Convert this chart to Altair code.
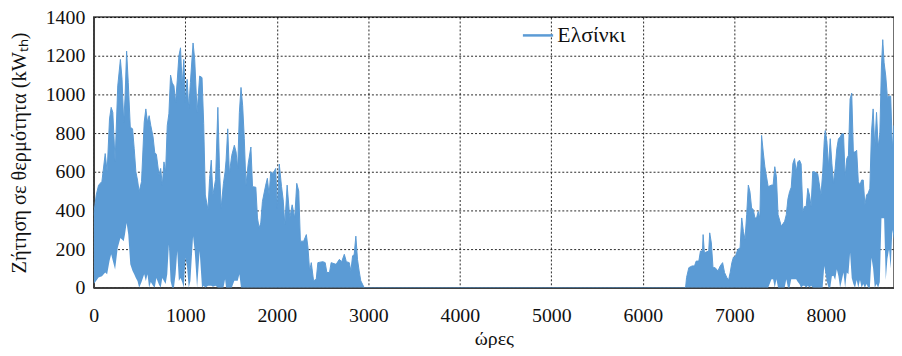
import altair as alt
import pandas as pd

# ---- data: hour of year, upper / lower envelope of the hourly demand (kW_th)
hours = [
    0, 27, 52, 89, 125, 146, 172, 190, 208, 233,
    262, 291, 309, 327, 341, 359, 377, 399, 424, 442,
    460, 478, 496, 522, 551, 569, 587, 605, 623, 648,
    666, 684, 713, 731, 749, 767, 785, 803, 821, 839,
    857, 876, 894, 912, 930, 948, 966, 984, 1002, 1020,
    1038, 1056, 1085, 1103, 1129, 1157, 1183, 1201, 1219, 1248,
    1266, 1284, 1302, 1331, 1356, 1374, 1392, 1417, 1435, 1446,
    1464, 1482, 1508, 1536, 1555, 1573, 1591, 1609, 1627, 1645,
    1663, 1688, 1717, 1735, 1771, 1789, 1807, 1825, 1843, 1879,
    1897, 1916, 1934, 1959, 1988, 2006, 2027, 2052, 2070, 2088,
    2113, 2142, 2168, 2196, 2218, 2240, 2258, 2294, 2323, 2341,
    2359, 2377, 2402, 2431, 2449, 2503, 2529, 2547, 2576, 2594,
    2648, 2684, 2709, 2738, 2760, 2792, 2810, 2828, 2846, 2864,
    2882, 2900, 2918, 2936, 2955, 6467, 6478, 6503, 6539, 6565,
    6583, 6612, 6630, 6652, 6659, 6673, 6720, 6731, 6749, 6767,
    6790, 6821, 6846, 6872, 6893, 6918, 6937, 6955, 6973, 6991,
    7009, 7038, 7063, 7081, 7099, 7117, 7135, 7153, 7171, 7189,
    7207, 7225, 7243, 7261, 7279, 7298, 7316, 7334, 7352, 7370,
    7406, 7424, 7442, 7460, 7478, 7514, 7550, 7568, 7586, 7604,
    7622, 7640, 7658, 7676, 7694, 7712, 7730, 7749, 7767, 7785,
    7803, 7821, 7839, 7857, 7875, 7911, 7947, 7965, 7983, 7994,
    8012, 8030, 8048, 8066, 8084, 8102, 8120, 8138, 8156, 8175,
    8193, 8211, 8229, 8247, 8265, 8283, 8301, 8319, 8337, 8355,
    8373, 8391, 8409, 8427, 8445, 8463, 8481, 8499, 8517, 8535,
    8554, 8572, 8590, 8608, 8622, 8637, 8655, 8673, 8691, 8709,
    8727, 8745, 8760,
]
upper = [
    380, 480, 530, 550, 694, 600, 873, 933, 907, 655,
    1044, 1181, 1078, 856, 976, 1224, 1061, 830, 822, 719,
    600, 557, 497, 549, 856, 925, 856, 890, 839, 780,
    700, 690, 583, 617, 531, 651, 600, 839, 900, 1100,
    1060, 1044, 959, 1070, 1198, 1241, 1044, 1181, 959, 1078,
    925, 1061, 1266, 1181, 907, 1095, 1087, 850, 480, 403,
    566, 660, 480, 560, 933, 617, 412, 540, 600, 660,
    822, 591, 685, 737, 702, 617, 907, 1036, 942, 771,
    531, 643, 728, 523, 520, 361, 309, 335, 446, 531,
    566, 480, 600, 591, 617, 412, 640, 523, 455, 326,
    531, 361, 429, 361, 540, 500, 241, 241, 275, 207,
    87, 130, 36, 44, 130, 135, 130, 79, 79, 130,
    121, 147, 135, 173, 135, 130, 87, 164, 173, 267,
    147, 87, 36, 19, 0, 0, 53, 104, 113, 113,
    138, 138, 190, 190, 275, 181, 190, 284, 232, 104,
    104, 87, 113, 130, 79, 53, 39, 79, 130, 159,
    159, 198, 207, 361, 292, 250, 378, 531, 497, 412,
    405, 361, 361, 395, 361, 788, 702, 626, 574, 523,
    531, 531, 626, 574, 378, 318, 344, 378, 460, 497,
    520, 643, 668, 600, 651, 660, 640, 395, 420, 420,
    514, 480, 420, 600, 600, 590, 480, 591, 762, 813,
    754, 626, 771, 643, 540, 617, 719, 771, 779, 796,
    796, 574, 668, 685, 976, 1007, 702, 702, 711, 549,
    531, 557, 557, 429, 480, 489, 514, 805, 925, 728,
    907, 728, 796, 1147, 1283, 1164, 1095, 984, 991, 991,
    719, 839, 800,
]
lower = [
    20, 36, 53, 60, 79, 70, 138, 173, 140, 95,
    207, 258, 250, 241, 275, 335, 275, 121, 87, 70,
    50, 35, 0, 30, 70, 35, 70, 0, 30, 10,
    0, 50, 15, 0, 50, 35, 20, 70, 224, 35,
    0, 0, 70, 190, 35, 50, 30, 0, 155, 104,
    0, 35, 267, 190, 0, 190, 0, 10, 0, 10,
    10, 10, 5, 10, 0, 0, 0, 0, 44, 0,
    0, 0, 0, 36, 36, 36, 70, 0, 0, 0,
    0, 0, 0, 0, 0, 0, 0, 0, 0, 0,
    0, 0, 0, 0, 0, 0, 0, 0, 0, 0,
    0, 0, 0, 0, 0, 0, 0, 0, 0, 0,
    0, 0, 0, 0, 0, 0, 0, 0, 0, 0,
    0, 0, 0, 0, 0, 0, 0, 0, 0, 0,
    0, 0, 0, 0, 0, 0, 0, 0, 0, 0,
    0, 0, 0, 0, 0, 0, 0, 0, 0, 0,
    0, 0, 0, 0, 0, 0, 0, 0, 0, 0,
    0, 0, 0, 0, 0, 0, 0, 0, 0, 0,
    0, 0, 0, 0, 0, 0, 0, 0, 0, 0,
    44, 44, 0, 44, 0, 0, 0, 44, 0, 0,
    44, 44, 44, 44, 30, 20, 0, 10, 10, 0,
    10, 0, 10, 0, 0, 0, 0, 0, 113, 80,
    30, 0, 0, 60, 62, 40, 96, 60, 0, 40,
    79, 0, 79, 70, 181, 50, 20, 0, 40, 0,
    40, 0, 20, 0, 20, 0, 0, 155, 100, 0,
    20, 0, 30, 360, 360, 360, 40, 150, 200, 100,
    300, 250, 100,
]
series_name = "Ελσίνκι"
x_ticks = [0, 1000, 2000, 3000, 4000, 5000, 6000, 7000, 8000]
y_ticks = [0, 200, 400, 600, 800, 1000, 1200, 1400]

assert len(hours) == len(upper) == len(lower)
df = pd.DataFrame({"hour": hours, "upper": upper, "lower": lower})
df["series"] = series_name

FONT = "Liberation Serif"
BLUE = "#5B9BD5"
TXT = "#111111"

common_axis = dict(
    labelFont=FONT, labelFontSize=20, labelColor=TXT, labelFlush=False,
    titleFont=FONT, titleColor=TXT, titleFontWeight="normal",
    ticks=False, grid=True, gridColor="#000000", gridDash=[2, 2], gridWidth=1,
    gridOpacity=0.85, domainColor="#404040", domainWidth=1.5,
)
x_axis = alt.Axis(values=x_ticks, format="d", title="ώρες", labelPadding=18,
                  titlePadding=3, titleFontSize=20, **common_axis)
y_axis = alt.Axis(values=y_ticks, format="d", title="Ζήτηση σε θερμότητα (kWₜₕ)",
                  labelPadding=9, titlePadding=16, titleFontSize=20.5, **common_axis)
x_scale = alt.Scale(domain=[0, 8745], nice=False, zero=False)
y_scale = alt.Scale(domain=[0, 1400], nice=False)

area = alt.Chart(df).mark_area(color=BLUE, clip=True, interpolate="linear").encode(
    x=alt.X("hour:Q", scale=x_scale, axis=x_axis),
    y=alt.Y("lower:Q", scale=y_scale, axis=y_axis),
    y2="upper:Q",
)

line = alt.Chart(df).mark_line(strokeWidth=1, clip=True, interpolate="linear").encode(
    x=alt.X("hour:Q", scale=x_scale, axis=x_axis),
    y=alt.Y("upper:Q", scale=y_scale, axis=y_axis),
    color=alt.Color(
        "series:N",
        scale=alt.Scale(range=[BLUE]),
        legend=alt.Legend(
            title=None, orient="none", legendX=431.5, legendY=2,
            symbolType="stroke", symbolSize=930, symbolStrokeWidth=2.5,
            labelFont=FONT, labelFontSize=22, labelColor=TXT,
            labelOffset=3, padding=0,
        ),
    ),
)

chart = (
    alt.layer(area, line)
    .properties(
        width=807, height=273,
        autosize=alt.AutoSizeParams(type="none"),
        padding={"left": 86.5, "top": 7.7, "right": 0, "bottom": 59.3},
    )
    .configure_view(stroke="#404040", strokeWidth=1.5)
)

chart.save("out.html", embed_options={"renderer": "svg", "actions": False})
